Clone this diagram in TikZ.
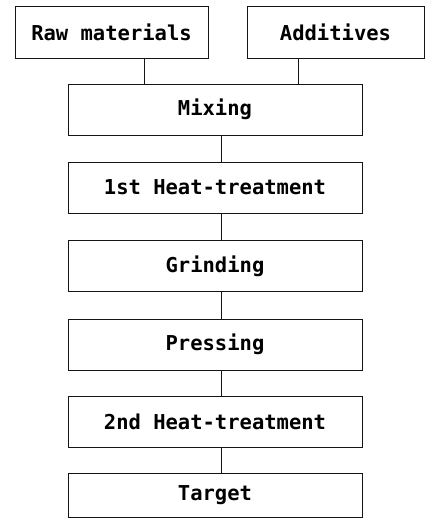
\documentclass[tikz,border=0pt]{standalone}
\usepackage{fontspec}
\setmonofont{DejaVu Sans Mono}
\usepackage{tikz}
\usetikzlibrary{positioning, calc}
\definecolor{mydark}{RGB}{20,20,20}
\tikzset{
  procbox/.style={rectangle, draw=mydark, minimum width=294pt, minimum height=51pt, inner sep=0pt, font=\ttfamily\bfseries\fontsize{20.5}{24}\selectfont, line width=0.8pt},
  line/.style={line width=0.8pt, color=mydark}
}
\begin{document}
\begin{tikzpicture}[x=1pt, y=-1pt]
  \useasboundingbox (0,0) rectangle (425,527);
  % Inputs
  \node[procbox, minimum width=193pt, minimum height=52pt] (raw) at (111.5,32) {Raw materials};
  \node[procbox, minimum width=177pt, minimum height=52pt] (add) at (335.5,32) {Additives};
  % Process chain
  \node[procbox] (mix) at (215,109.5) {Mixing};
  \node[procbox] (heat1) at (215,187.5) {1st Heat-treatment};
  \node[procbox] (grind) at (215,266) {Grinding};
  \node[procbox] (press) at (215,344.5) {Pressing};
  \node[procbox] (heat2) at (215,422) {2nd Heat-treatment};
  \node[procbox, minimum height=44pt] (target) at (215,495) {Target};

  \draw[line] ([xshift=32.5pt]raw.south) -- ([xshift=32.5pt]raw.south |- mix.north);
  \draw[line] ([xshift=-37.5pt]add.south) -- ([xshift=-37.5pt]add.south |- mix.north);
  \foreach \a/\b in {mix/heat1, heat1/grind, grind/press, press/heat2, heat2/target}
    \draw[line] ([xshift=6pt]\a.south) -- ([xshift=6pt]\b.north);
\end{tikzpicture}
\end{document}
